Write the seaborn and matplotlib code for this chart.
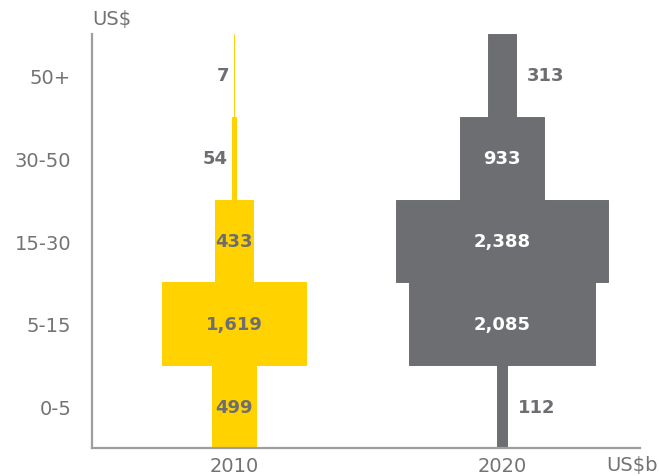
import matplotlib
matplotlib.use("Agg")
import matplotlib.pyplot as plt
import seaborn as sns

# value bands (bottom -> top) and amounts per year
bands = ["0-5", "5-15", "15-30", "30-50", "50+"]
years = ["2010", "2020"]
values_2010 = [499, 1619, 433, 54, 7]
values_2020 = [112, 2085, 2388, 933, 313]

sns.set_style("white")
plt.rcParams["font.family"] = ["DejaVu Sans"]

text_grey = "#737373"
bar_colors = {"2010": "#FFD200", "2020": "#6D6E71"}
inner_text = {"2010": "#6D6E71", "2020": "white"}
# bars narrower than this get their label outside
cutoff = {"2010": 100, "2020": 400}
side = {"2010": "left", "2020": "right"}

# one x unit = distance between the two year centres
scale = 3011.0

fig = plt.figure(figsize=(6.59, 4.77), dpi=100)
ax = fig.add_axes([0.1396, 0.0587, 0.8316, 0.8679])

for i, (year, vals) in enumerate(zip(years, [values_2010, values_2020])):
    widths = [v / scale for v in vals]
    lefts = [i - w / 2 for w in widths]
    ax.barh(range(len(bands)), widths, left=lefts, height=1.0,
            color=bar_colors[year], edgecolor=bar_colors[year], linewidth=0.7)
    for y, (v, w) in enumerate(zip(vals, widths)):
        label = f"{v:,}"
        if v >= cutoff[year]:
            ax.text(i, y, label, ha="center", va="center", fontsize=13,
                    fontweight="bold", color=inner_text[year])
        elif side[year] == "left":
            ax.annotate(label, xy=(i - w / 2, y), xytext=(-3, 0),
                        textcoords="offset points", ha="right", va="center",
                        fontsize=13, fontweight="bold", color="#6D6E71")
        else:
            ax.annotate(label, xy=(i + w / 2, y), xytext=(8, 0),
                        textcoords="offset points", ha="left", va="center",
                        fontsize=13, fontweight="bold", color="#6D6E71")

ax.set_xlim(-0.53, 1.515)
ax.set_ylim(-0.5, 4.5)
ax.set_xticks(range(len(years)))
ax.set_xticklabels(years)
ax.set_yticks(range(len(bands)))
ax.set_yticklabels(bands)
ax.tick_params(axis="both", length=0, labelsize=14, colors=text_grey)
ax.tick_params(axis="y", pad=15)
ax.tick_params(axis="x", pad=6)

sns.despine(ax=ax)
for s in ["left", "bottom"]:
    ax.spines[s].set_color("#9E9E9E")
    ax.spines[s].set_linewidth(1.6)

fig.text(92 / 659, 1 - 19 / 477, "US$", ha="left", va="center",
         fontsize=14, color=text_grey)
fig.text(658 / 659, 1 - 466 / 477, "US$b", ha="right", va="center",
         fontsize=14, color=text_grey)

fig.savefig("out.png", dpi=100)
